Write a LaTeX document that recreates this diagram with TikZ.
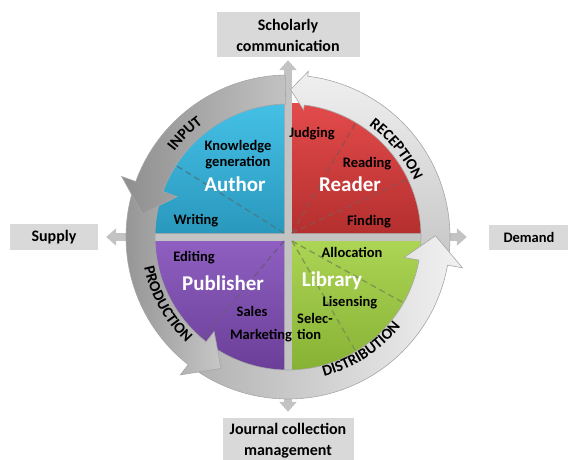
\documentclass[tikz,border=0pt]{standalone}
\usepackage{fontspec}
\setmainfont{Carlito}
\usepackage{xcolor}
\usepackage{tikz}
\usetikzlibrary{shapes.geometric, arrows.meta, decorations.text}

\definecolor{boxgray}{HTML}{D9D9D9}
\definecolor{crossgray}{HTML}{C3C3C3}
\definecolor{authortop}{HTML}{45C0E6}
\definecolor{authorbot}{HTML}{2A98BD}
\definecolor{readertop}{HTML}{E34B4B}
\definecolor{readerbot}{HTML}{B52F2F}
\definecolor{publishtop}{HTML}{8E5FC0}
\definecolor{publishbot}{HTML}{6A3E98}
\definecolor{librarytop}{HTML}{ACD455}
\definecolor{librarybot}{HTML}{86B233}

\tikzstyle{outbox} = [rectangle, 
inner sep=0pt, 
align=center, 
fill=boxgray, 
font=\bfseries\fontsize{16}{21}\selectfont]
\tikzstyle{crossarrow} = [draw=crossgray, 
line width=8pt, 
-{Triangle[width=17pt,length=10pt]}]
\tikzstyle{tasktext} = [inner sep=0pt, 
align=center, 
font=\bfseries\fontsize{14.5}{16}\selectfont]
\tikzstyle{rolename} = [inner sep=0pt, 
text=white, 
font=\bfseries\fontsize{21}{24}\selectfont]
\tikzstyle{divider} = [dash pattern=on 6pt off 4pt, line width=1.3pt]
\tikzstyle{ringpart} = [draw=black!35, line width=0.6pt]

\newcommand{\ringfont}{\bfseries\fontsize{15.5}{17}\selectfont}

% one piece of the ring: start angle, head base angle, tip angle, head overhang, colours
\newcommand{\ringarrow}[5]{%
\draw[ringpart, #5] ([shift={(#1:162)}]hub) arc[start angle=#1, end angle=#2, radius=162]
 -- ([shift={(#2:{162+#4})}]hub) -- ([shift={(#3:147.5)}]hub)
 -- ([shift={(#2:{133-#4})}]hub) -- ([shift={(#2:133)}]hub)
 arc[start angle=#2, end angle=#1, radius=133] -- cycle;}

\begin{document}
\begin{tikzpicture}[x=1pt, y=1pt, node distance=200pt]
\useasboundingbox (0,0) rectangle (568,459);

% Nodes
\coordinate (hub) at (288,222);
\node (scholarly) [outbox, above of=hub, yshift=2pt, minimum width=143pt, minimum height=45pt] {Scholarly\\communication};
\node (supply) [outbox, left of=hub, xshift=-34pt, minimum width=88pt, minimum height=26pt] {Supply};
\node (demand) [outbox, right of=hub, xshift=41pt, minimum width=80pt, minimum height=25pt, font=\bfseries\fontsize{14.5}{18}\selectfont] {Demand};
\node (journal) [outbox, below of=hub, yshift=-4pt, minimum width=131pt, minimum height=46pt] {Journal collection\\management};

% Arrows
\draw [crossarrow, shorten >=2.5pt] (hub) -- (scholarly);
\draw [crossarrow, shorten >=8pt] (hub) -- (supply);
\draw [crossarrow, shorten >=22pt] (hub) -- (demand);
\draw [crossarrow, shorten >=6pt] (hub) -- (journal);

% Quadrants
\coordinate (authorcorner) at ([shift={(-4,4)}]hub);
\coordinate (readercorner) at ([shift={(4,4)}]hub);
\coordinate (publishcorner) at ([shift={(-4,-4)}]hub);
\coordinate (librarycorner) at ([shift={(4,-4)}]hub);
\fill[top color=authortop, bottom color=authorbot] (authorcorner) -- ++(0,130) arc[start angle=90, end angle=180, radius=130] -- cycle;
\fill[top color=readertop, bottom color=readerbot] (readercorner) -- ++(130,0) arc[start angle=0, end angle=90, radius=130] -- cycle;
\fill[top color=publishtop, bottom color=publishbot] (publishcorner) -- ++(-130,0) arc[start angle=180, end angle=270, radius=130] -- cycle;
\fill[top color=librarytop, bottom color=librarybot] (librarycorner) -- ++(0,-130) arc[start angle=270, end angle=360, radius=130] -- cycle;
\draw [divider, draw=authorbot!60!black!80] (authorcorner) -- ++(148:128);
\draw [divider, draw=readerbot!70!black!80] (readercorner) -- ++(60:128);
\draw [divider, draw=readerbot!70!black!80] (readercorner) -- ++(25:128);
\draw [divider, draw=publishbot!70!black!80] (publishcorner) -- ++(230:128);
\draw [divider, draw=librarybot!70!black!80] (librarycorner) -- ++(331:128);
\draw [divider, draw=librarybot!70!black!80] (librarycorner) -- ++(300:128);

% Ring
\ringarrow{-8}{83}{89}{5}{top color=black!6, bottom color=black!22}
\ringarrow{236}{350}{360.5}{15}{left color=black!30, right color=black!5}
\ringarrow{163}{232}{243}{13}{left color=black!44, right color=black!22}
\ringarrow{91}{160}{171}{15}{left color=black!44, right color=black!24}

\path [decorate, decoration={text along path, text={|\ringfont|INPUT}, text align=center}]
 ([shift={(165:142)}]hub) arc[start angle=165, end angle=105, radius=142];
\path [decorate, decoration={text along path, text={|\ringfont|RECEPTION}, text align=center}]
 ([shift={(69:138)}]hub) arc[start angle=69, end angle=9, radius=138];
\path [decorate, decoration={text along path, text={|\ringfont|PRODUCTION}, text align=center}]
 ([shift={(179:147)}]hub) arc[start angle=179, end angle=239, radius=147];
\path [decorate, decoration={text along path, text={|\ringfont|DISTRIBUTION}, text align=center}]
 ([shift={(268:144)}]hub) arc[start angle=268, end angle=338, radius=144];

% Labels
\node (knowledge) [tasktext] at (238,304) {Knowledge\\generation};
\node (author) [rolename] at (235,275) {Author};
\node (writing) [tasktext] at (196,238) {Writing};
\node (judging) [tasktext] at (312,325) {Judging};
\node (reading) [tasktext] at (367,295) {Reading};
\node (reader) [rolename] at (350,275) {Reader};
\node (finding) [tasktext] at (369,237) {Finding};
\node (editing) [tasktext] at (194,201) {Editing};
\node (publisher) [rolename] at (223,176) {Publisher};
\node (sales) [tasktext] at (252,148) {Sales};
\node (marketing) [tasktext] at (261,123) {Marketing};
\node (allocation) [tasktext] at (352,207) {Allocation};
\node (library) [rolename] at (332,178) {Library};
\node (lisensing) [tasktext] at (350,156) {Lisensing};
\node (selection) [tasktext, anchor=west, align=left] at (297,133) {Selec-\\tion};

\end{tikzpicture}
\end{document}
